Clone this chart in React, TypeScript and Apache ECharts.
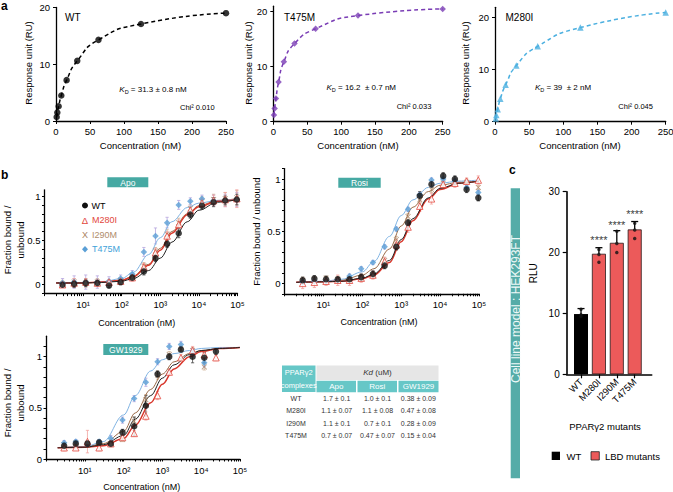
import React, { useEffect, useRef } from 'react';
import * as echarts from 'echarts';

const FONT = '"Liberation Sans", Arial, Helvetica, sans-serif';
const TEAL = '#46a9a3';
const TEAL_TABLE = '#66c7c7';
const RED = '#e2473d';
const TAN = '#a98260';
const BLUE = '#5a9fd6';
const PURPLE = '#7a3db5';
const SKY = '#4cb0e0';

// ---------- panel a (SPR) ----------
const A_CONC = [0.98, 1.95, 3.9, 7.8, 15.6, 31.25, 62.5, 125, 250];
const A_WT = [0.7, 1.5, 2.6, 4.5, 7.2, 10.6, 14.3, 17.1, 19.0];
const A_T475M = [1.2, 2.4, 4.2, 7.2, 10.9, 14.2, 16.9, 19.3, 20.5];
const A_M280I = [0.6, 1.3, 2.4, 4.4, 7.1, 10.8, 14.5, 18.1, 21.0];
const A_Y_TICKS = [0, 10, 20];

// ---------- panel b (binding curves) ----------
const B_CONC = [2.93, 5.86, 11.7, 23.4, 46.9, 93.8, 187.5, 375, 750, 1500, 3000, 6000, 12000, 24000, 48000, 96000];
const FIT_X = [2, 10, 30, 100, 200, 500, 1000, 2000, 5000, 10000, 30000, 100000];
const B_Y_LABELS = [0, 0.5, 1];
const B_Y_TICKS = [-0.1, 0, 0.1, 0.2, 0.3, 0.4, 0.5, 0.6, 0.7, 0.8, 0.9, 1.0, 1.1];

const APO_WT = [0.0, 0.01, 0.02, 0.02, -0.01, 0.03, 0.08, 0.15, 0.3, 0.46, 0.58, 0.79, 0.89, 0.93, 0.95, 0.96];
const APO_M280I = [0.0, 0.02, 0.03, 0.02, 0.03, 0.04, 0.08, 0.2, 0.36, 0.55, 0.68, 0.84, 0.92, 0.95, 0.96, 0.97];
const APO_I290M = [0.01, 0.03, 0.02, 0.03, 0.02, 0.05, 0.09, 0.21, 0.38, 0.57, 0.7, 0.86, 0.94, 0.96, 0.97, 0.98];
const APO_T475M = [0.02, 0.03, 0.03, 0.03, 0.04, 0.07, 0.12, 0.37, 0.55, 0.7, 0.9, 0.94, 0.97, 0.95, 0.95, 0.96];
const APO_WT_ERR = [0.03, 0.04, 0.04, 0.03, 0.02, 0.03, 0.03, 0.04, 0.04, 0.04, 0.05, 0.04, 0.04, 0.05, 0.05, 0.06];
const APO_M280I_ERR = [0.03, 0.05, 0.04, 0.04, 0.03, 0.03, 0.04, 0.04, 0.05, 0.05, 0.05, 0.04, 0.05, 0.06, 0.08, 0.1];
const APO_I290M_ERR = [0.04, 0.04, 0.05, 0.04, 0.03, 0.03, 0.03, 0.04, 0.04, 0.05, 0.05, 0.04, 0.05, 0.06, 0.07, 0.08];
const APO_T475M_ERR = [0.05, 0.07, 0.08, 0.07, 0.05, 0.04, 0.04, 0.05, 0.09, 0.06, 0.05, 0.04, 0.04, 0.06, 0.07, 0.08];
const APO_FIT_WT = [0.02, 0.02, 0.025, 0.04, 0.07, 0.16, 0.3, 0.48, 0.71, 0.84, 0.93, 0.96];
const APO_FIT_M280I = [0.02, 0.02, 0.03, 0.05, 0.09, 0.22, 0.39, 0.58, 0.79, 0.88, 0.94, 0.96];
const APO_FIT_I290M = [0.02, 0.02, 0.03, 0.05, 0.1, 0.23, 0.41, 0.6, 0.8, 0.89, 0.95, 0.97];
const APO_FIT_T475M = [0.02, 0.02, 0.03, 0.07, 0.14, 0.34, 0.53, 0.71, 0.87, 0.92, 0.95, 0.965];

const ROSI_WT = [0.03, 0.045, 0.04, 0.04, 0.04, 0.06, 0.09, 0.17, 0.35, 0.58, 0.84, 0.95, 1.03, 1.0, 0.9, 0.82];
const ROSI_M280I = [0.0, 0.01, 0.02, 0.03, 0.03, 0.05, 0.08, 0.21, 0.37, 0.54, 0.74, 0.81, 0.95, 0.96, 0.98, 0.99];
const ROSI_I290M = [0.03, 0.04, 0.05, 0.04, 0.04, 0.05, 0.08, 0.22, 0.42, 0.64, 0.8, 0.9, 0.96, 0.97, 0.97, 0.92];
const ROSI_T475M = [0.01, 0.02, 0.02, 0.03, 0.07, 0.14, 0.2, 0.35, 0.52, 0.71, 0.85, 0.99, 1.0, 0.98, 0.92, 0.87];
const ROSI_WT_ERR = [0.03, 0.03, 0.03, 0.02, 0.02, 0.03, 0.03, 0.03, 0.03, 0.03, 0.04, 0.03, 0.03, 0.03, 0.03, 0.03];
const ROSI_M280I_ERR = [0.05, 0.05, 0.04, 0.05, 0.05, 0.04, 0.04, 0.04, 0.05, 0.05, 0.05, 0.05, 0.04, 0.04, 0.03, 0.04];
const ROSI_I290M_ERR = [0.03, 0.03, 0.02, 0.03, 0.03, 0.03, 0.03, 0.03, 0.03, 0.03, 0.03, 0.03, 0.03, 0.03, 0.03, 0.02];
const ROSI_T475M_ERR = [0.02, 0.02, 0.02, 0.02, 0.02, 0.02, 0.02, 0.02, 0.02, 0.02, 0.02, 0.02, 0.02, 0.02, 0.02, 0.02];
const ROSI_FIT_WT = [0.01, 0.015, 0.02, 0.05, 0.09, 0.22, 0.42, 0.62, 0.82, 0.91, 0.96, 0.98];
const ROSI_FIT_M280I = [0.01, 0.015, 0.02, 0.045, 0.08, 0.2, 0.4, 0.6, 0.81, 0.9, 0.96, 0.98];
const ROSI_FIT_I290M = [0.01, 0.015, 0.03, 0.08, 0.14, 0.33, 0.55, 0.73, 0.88, 0.94, 0.97, 0.98];
const ROSI_FIT_T475M = [0.01, 0.02, 0.04, 0.11, 0.21, 0.45, 0.65, 0.8, 0.92, 0.96, 0.98, 0.99];

const GW_WT = [0.13, 0.15, 0.15, 0.16, 0.15, 0.26, 0.32, 0.52, 0.83, 1.0, 1.07, 1.0, 0.99, 1.05];
const GW_M280I = [0.11, 0.11, 0.17, 0.11, 0.15, 0.21, 0.25, 0.42, 0.62, 0.85, 0.99, 1.06, 1.02, 0.99];
const GW_I290M = [0.14, 0.16, 0.15, 0.16, 0.15, 0.19, 0.37, 0.58, 0.82, 1.02, 1.07, 1.06, 0.9];
const GW_T475M = [0.16, 0.17, 0.15, 0.17, 0.2, 0.38, 0.59, 0.75, 0.95, 1.1, 1.12, 1.04, 0.94];
const GW_WT_ERR = [0.03, 0.03, 0.03, 0.03, 0.02, 0.03, 0.09, 0.1, 0.03, 0.03, 0.03, 0.06, 0.05, 0.03];
const GW_M280I_ERR = [0.03, 0.02, 0.11, 0.03, 0.03, 0.03, 0.03, 0.04, 0.04, 0.03, 0.03, 0.04, 0.04, 0.03];
const GW_I290M_ERR = [0.02, 0.02, 0.02, 0.02, 0.03, 0.02, 0.04, 0.05, 0.04, 0.03, 0.03, 0.03, 0.03];
const GW_T475M_ERR = [0.02, 0.02, 0.02, 0.02, 0.03, 0.03, 0.03, 0.04, 0.03, 0.03, 0.03, 0.04, 0.04];
const GW_FIT_WT = [0.11, 0.115, 0.14, 0.23, 0.39, 0.62, 0.79, 0.92, 1.02, 1.06, 1.08, 1.09];
const GW_FIT_M280I = [0.11, 0.115, 0.13, 0.2, 0.33, 0.55, 0.73, 0.88, 1.0, 1.05, 1.08, 1.09];
const GW_FIT_I290M = [0.11, 0.12, 0.15, 0.27, 0.45, 0.68, 0.83, 0.95, 1.03, 1.06, 1.08, 1.09];
const GW_FIT_T475M = [0.11, 0.12, 0.17, 0.43, 0.62, 0.86, 0.97, 1.03, 1.06, 1.08, 1.09, 1.09];

const TABLE_ROWS = ['WT', 'M280I', 'I290M', 'T475M'];
const TABLE_APO = ['1.7 ± 0.1', '1.1 ± 0.07', '1.1 ± 0.1', '0.7 ± 0.07'];
const TABLE_ROSI = ['1.0 ± 0.1', '1.1 ± 0.08', '0.7 ± 0.1', '0.47 ± 0.07'];
const TABLE_GW = ['0.38 ± 0.09', '0.47 ± 0.08', '0.28 ± 0.09', '0.15 ± 0.04'];

// ---------- panel c (luciferase) ----------
const C_CATS = ['WT', 'M280I', 'I290M', 'T475M'];
const C_MEAN = [9.9, 19.8, 21.6, 23.8];
const C_ERR = [0.9, 1.0, 2.0, 1.3];
const C_DOTS_WT = [10.7, 9.8, 9.5];
const C_DOTS_M280I = [20.5, 19.7, 18.4];
const C_DOTS_I290M = [23.5, 21.5, 20.0];
const C_DOTS_T475M = [24.8, 23.7, 22.3];
const C_STAR_Y = [22.6, 25.0, 26.8];
const C_STAR_CAT = [1, 2, 3];

const SUP: Record<number, string> = { 0: '⁰', 1: '¹', 2: '²', 3: '³', 4: '⁴', 5: '⁵' };

function logTicks() {
  const t: number[] = [];
  for (let d = 0; d < 5; d++) for (let m = 1; m < 10; m++) t.push(m * Math.pow(10, d));
  t.push(100000);
  return t;
}

const txt = (x: number, y: number, text: string, o: any = {}) => ({
  type: 'text',
  x,
  y,
  rotation: o.rot || 0,
  silent: true,
  z: 100,
  style: {
    text,
    fill: o.color || '#000',
    fontSize: o.size || 9,
    fontFamily: FONT,
    fontWeight: o.bold ? 'bold' : 'normal',
    fontStyle: o.italic ? 'italic' : 'normal',
    textAlign: o.align || 'center',
    textVerticalAlign: 'middle',
    align: o.align || 'center',
    verticalAlign: 'middle',
    rich: o.rich,
  },
});
const box = (x: number, y: number, w: number, h: number, fill: string, stroke?: string) => ({
  type: 'rect',
  silent: true,
  z: 90,
  shape: { x, y, width: w, height: h },
  style: { fill, stroke: stroke || 'none', lineWidth: stroke ? 0.8 : 0 },
});

function errSeries(gi: number, xs: number[], ys: number[], es: number[], color: string, cap: number, upOnly = false, lw = 0.8) {
  return {
    type: 'custom',
    xAxisIndex: gi,
    yAxisIndex: gi,
    z: 1,
    silent: true,
    clip: false,
    encode: { x: 0, y: 1 },
    data: ys.map((v, i) => [xs[i], v, es[i]]),
    renderItem: (_p: any, api: any) => {
      const x = api.value(0);
      const y = api.value(1);
      const e = api.value(2);
      const top = api.coord([x, y + e]);
      const bot = api.coord(upOnly ? [x, y] : [x, y - e]);
      const st = { stroke: color, lineWidth: lw };
      const children: any[] = [
        { type: 'line', shape: { x1: top[0], y1: top[1], x2: bot[0], y2: bot[1] }, style: st },
        { type: 'line', shape: { x1: top[0] - cap, y1: top[1], x2: top[0] + cap, y2: top[1] }, style: st },
      ];
      if (!upOnly) children.push({ type: 'line', shape: { x1: bot[0] - cap, y1: bot[1], x2: bot[0] + cap, y2: bot[1] }, style: st });
      return { type: 'group', children };
    },
  };
}

const X_PATH = 'path://M0,1L1,0L5,4L9,0L10,1L6,5L10,9L9,10L5,6L1,10L0,9L4,5Z';

const SERIES_STYLE: Record<string, any> = {
  WT: { symbol: 'circle', size: 6.5, item: { color: '#111' }, line: '#222', lw: 1, err: '#444' },
  M280I: { symbol: 'triangle', size: 6.5, item: { color: '#fff', borderColor: RED, borderWidth: 1 }, line: '#d8372c', lw: 1.5, err: '#f2a3a0' },
  I290M: { symbol: X_PATH, size: 5.5, item: { color: TAN }, line: '#9b6a48', lw: 1, err: '#cfb195' },
  T475M: { symbol: 'diamond', size: 6.5, item: { color: BLUE }, line: '#7fb3e3', lw: 1, err: '#b6a6de' },
};

function bSeries(gi: number, key: string, vals: number[], errs: number[], fit: number[]) {
  const s = SERIES_STYLE[key];
  return [
    errSeries(gi, B_CONC, vals, errs, s.err, 1.6),
    {
      type: 'line',
      xAxisIndex: gi,
      yAxisIndex: gi,
      z: 2,
      silent: true,
      smooth: 0.35,
      smoothMonotone: 'x',
      showSymbol: false,
      data: FIT_X.map((x, i) => [x, fit[i]]),
      lineStyle: { color: s.line, width: s.lw },
    },
    {
      type: 'scatter',
      xAxisIndex: gi,
      yAxisIndex: gi,
      z: 3,
      silent: true,
      clip: false,
      symbol: s.symbol,
      symbolSize: s.size,
      itemStyle: s.item,
      data: vals.map((v, i) => [B_CONC[i], v]),
    },
  ];
}

function aSeries(gi: number, vals: number[], symbol: string, color: string, size: number) {
  const data = vals.map((v, i) => [A_CONC[i], v]);
  return [
    {
      type: 'line',
      xAxisIndex: gi,
      yAxisIndex: gi,
      z: 2,
      silent: true,
      smooth: 0.6,
      showSymbol: false,
      data,
      lineStyle: { color, width: 1.5, type: [4, 3] },
    },
    {
      type: 'scatter',
      xAxisIndex: gi,
      yAxisIndex: gi,
      z: 3,
      silent: true,
      clip: false,
      symbol,
      symbolSize: size,
      itemStyle: { color },
      data,
    },
  ];
}

const AXLINE = { show: true, onZero: false, lineStyle: { color: '#000', width: 1.3 } };
const LBL = { color: '#000', fontFamily: FONT, fontSize: 9.5 };

function aX(gi: number) {
  return {
    type: 'value', gridIndex: gi, min: 0, max: 250, interval: 50,
    axisLine: AXLINE, axisTick: { show: true, length: 3, lineStyle: { color: '#000' } },
    axisLabel: { ...LBL, margin: 5 }, splitLine: { show: false },
  };
}
function aY(gi: number, max: number) {
  return {
    type: 'value', gridIndex: gi, min: 0, max,
    axisLine: AXLINE, axisTick: { show: true, length: 3, customValues: A_Y_TICKS, lineStyle: { color: '#000' } },
    axisLabel: { ...LBL, margin: 6, customValues: A_Y_TICKS }, splitLine: { show: false },
  };
}
function bX(gi: number) {
  return {
    type: 'log', gridIndex: gi, min: 1, max: 100000, logBase: 10,
    axisLine: AXLINE,
    axisTick: { show: true, length: 2.5, customValues: logTicks(), lineStyle: { color: '#000' } },
    axisLabel: {
      ...LBL, margin: 6,
      formatter: (v: number) => (v < 5 ? '' : '10' + SUP[Math.round(Math.log10(v))]),
    },
    splitLine: { show: false },
  };
}
function bY(gi: number, min: number, max: number) {
  return {
    type: 'value', gridIndex: gi, min, max,
    axisLine: AXLINE,
    axisTick: { show: true, length: 2.5, customValues: B_Y_TICKS.filter((t) => t >= min - 1e-9 && t <= max + 1e-9), lineStyle: { color: '#000' } },
    axisLabel: { ...LBL, margin: 4, customValues: B_Y_LABELS, formatter: (v: number) => String(v) },
    splitLine: { show: false },
  };
}

function buildOption() {
  const grid = [
    { left: 56, top: 7.5, width: 170, height: 113.5 },
    { left: 273.3, top: 6.2, width: 169.4, height: 115.5 },
    { left: 495, top: 7.3, width: 170.7, height: 114.4 },
    { left: 44.5, top: 189.8, width: 193, height: 103.8 },
    { left: 284.5, top: 168.6, width: 194.5, height: 125.2 },
    { left: 46, top: 336.2, width: 194, height: 122.8 },
    { left: 566.7, top: 191.7, width: 85, height: 182.6 },
  ].map((g) => ({ ...g, containLabel: false, outerBoundsMode: 'none' }));

  const xAxis: any[] = [
    aX(0), aX(1), aX(2), bX(3), bX(4), bX(5),
    {
      type: 'value', gridIndex: 6, min: -0.8, max: 3.95,
      axisLine: { ...AXLINE, lineStyle: { color: '#000', width: 1.6 } },
      axisTick: { show: true, length: 4, customValues: [0, 1, 2, 3], lineStyle: { color: '#000', width: 1.2 } },
      axisLabel: { ...LBL, fontSize: 9.5, margin: 6, rotate: 45, customValues: [0, 1, 2, 3], formatter: (v: number) => C_CATS[Math.round(v)] || '' },
      splitLine: { show: false },
    },
  ];
  const yAxis: any[] = [
    aY(0, 20), aY(1, 21), aY(2, 22),
    bY(3, -0.1, 1.07), bY(4, -0.1, 1.1), bY(5, 0, 1.2),
    {
      type: 'value', gridIndex: 6, min: 0, max: 30, interval: 10,
      axisLine: { ...AXLINE, lineStyle: { color: '#000', width: 1.6 } },
      axisTick: { show: true, length: 4, lineStyle: { color: '#000', width: 1.2 } },
      axisLabel: { ...LBL, fontSize: 10, margin: 7 },
      splitLine: { show: false },
    },
  ];

  const series: any[] = [
    ...aSeries(0, A_WT, 'circle', '#000', 6.5),
    ...aSeries(1, A_T475M, 'diamond', PURPLE, 6.5),
    ...aSeries(2, A_M280I, 'triangle', SKY, 6.5),

    ...bSeries(3, 'I290M', APO_I290M, APO_I290M_ERR, APO_FIT_I290M),
    ...bSeries(3, 'T475M', APO_T475M, APO_T475M_ERR, APO_FIT_T475M),
    ...bSeries(3, 'M280I', APO_M280I, APO_M280I_ERR, APO_FIT_M280I),
    ...bSeries(3, 'WT', APO_WT, APO_WT_ERR, APO_FIT_WT),

    ...bSeries(4, 'I290M', ROSI_I290M, ROSI_I290M_ERR, ROSI_FIT_I290M),
    ...bSeries(4, 'T475M', ROSI_T475M, ROSI_T475M_ERR, ROSI_FIT_T475M),
    ...bSeries(4, 'M280I', ROSI_M280I, ROSI_M280I_ERR, ROSI_FIT_M280I),
    ...bSeries(4, 'WT', ROSI_WT, ROSI_WT_ERR, ROSI_FIT_WT),

    ...bSeries(5, 'I290M', GW_I290M, GW_I290M_ERR, GW_FIT_I290M),
    ...bSeries(5, 'T475M', GW_T475M, GW_T475M_ERR, GW_FIT_T475M),
    ...bSeries(5, 'M280I', GW_M280I, GW_M280I_ERR, GW_FIT_M280I),
    ...bSeries(5, 'WT', GW_WT, GW_WT_ERR, GW_FIT_WT),

    {
      type: 'bar', xAxisIndex: 6, yAxisIndex: 6, barWidth: 14, z: 2, silent: true,
      data: C_MEAN.map((v, i) => ({
        value: [i, v],
        itemStyle: i === 0 ? { color: '#000' } : { color: '#ec5a5a', borderColor: '#2a1a1a', borderWidth: 0.8 },
      })),
    },
    errSeries(6, [0, 1, 2, 3], C_MEAN, C_ERR, '#000', 3.5, true, 1.3),
    {
      type: 'scatter', xAxisIndex: 6, yAxisIndex: 6, z: 4, silent: true, symbolSize: 3.5,
      itemStyle: { color: '#111' },
      data: [
        ...C_DOTS_WT.map((v) => [0, v]),
        ...C_DOTS_M280I.map((v) => [1, v]),
        ...C_DOTS_I290M.map((v) => [2, v]),
        ...C_DOTS_T475M.map((v) => [3, v]),
      ],
    },
    {
      type: 'scatter', xAxisIndex: 6, yAxisIndex: 6, z: 4, silent: true, symbolSize: 0,
      data: C_STAR_CAT.map((c, i) => [c, C_STAR_Y[i]]),
      label: { show: true, position: 'inside', formatter: '****', fontSize: 11, color: '#000', fontFamily: FONT, offset: [0, 3] },
    },
  ];

  const kdRich = {
    i: { fontSize: 8, fontFamily: FONT, fontStyle: 'italic', fill: '#000', color: '#000' },
    s: { fontSize: 5.5, fontFamily: FONT, fill: '#000', color: '#000', padding: [5, 0, 0, 0] },
    n: { fontSize: 8, fontFamily: FONT, fill: '#000', color: '#000' },
  };

  const graphic: any[] = [
    // panel letters
    txt(1, 6, 'a', { bold: true, size: 12, align: 'left' }),
    txt(1, 175, 'b', { bold: true, size: 12, align: 'left' }),
    txt(509, 170, 'c', { bold: true, size: 12, align: 'left' }),

    // panel a texts
    txt(28.3, 63, 'Response unit (RU)', { rot: Math.PI / 2, size: 9.5 }),
    txt(248.3, 63, 'Response unit (RU)', { rot: Math.PI / 2, size: 9.5 }),
    txt(465, 63, 'Response unit (RU)', { rot: Math.PI / 2, size: 9.5 }),
    txt(140.5, 145, 'Concentration (nM)', { size: 9.5 }),
    txt(358, 145, 'Concentration (nM)', { size: 9.5 }),
    txt(580, 145, 'Concentration (nM)', { size: 9.5 }),
    txt(65, 17, 'WT', { size: 10, align: 'left' }),
    txt(284, 17, 'T475M', { size: 10, align: 'left' }),
    txt(505.5, 17, 'M280I', { size: 10, align: 'left' }),
    txt(119.3, 89, '{i|K}{s|D}{n| = 31.3 ± 0.8 nM}', { align: 'left', rich: kdRich }),
    txt(326.5, 87.5, '{i|K}{s|D}{n| = 16.2  ± 0.7 nM}', { align: 'left', rich: kdRich }),
    txt(535, 87.5, '{i|K}{s|D}{n| = 39  ± 2 nM}', { align: 'left', rich: kdRich }),
    txt(180, 107, 'Chi² 0.010', { size: 7.5, align: 'left' }),
    txt(396.7, 106.7, 'Chi² 0.033', { size: 7.5, align: 'left' }),
    txt(618.3, 106.7, 'Chi² 0.045', { size: 7.5, align: 'left' }),

    // panel b titles
    txt(7, 240, 'Fraction bound /', { rot: Math.PI / 2, size: 9.5 }),
    txt(20.5, 240, 'unbound', { rot: Math.PI / 2, size: 9.5 }),
    txt(256.7, 231.7, 'Fraction bound / unbound', { rot: Math.PI / 2, size: 9.5 }),
    txt(7, 403, 'Fraction bound /', { rot: Math.PI / 2, size: 9.5 }),
    txt(20.5, 403, 'unbound', { rot: Math.PI / 2, size: 9.5 }),
    txt(136.7, 323, 'Concentration (nM)', { size: 9 }),
    txt(379, 322, 'Concentration (nM)', { size: 9 }),
    txt(141.7, 487, 'Concentration (nM)', { size: 9 }),

    box(107.3, 177.3, 41, 10, TEAL),
    txt(127.8, 182.5, 'Apo', { color: '#fff', size: 8.5 }),
    box(338.3, 177.7, 42.4, 10, TEAL),
    txt(359.5, 182.9, 'Rosi', { color: '#fff', size: 8.5 }),
    box(103.3, 344, 45, 11, TEAL),
    txt(125.8, 349.7, 'GW1929', { color: '#fff', size: 8.5 }),

    // panel b legend
    { type: 'circle', silent: true, z: 100, shape: { cx: 85, cy: 205.5, r: 3 }, style: { fill: '#111' } },
    txt(91.5, 205.5, 'WT', { size: 9, align: 'left' }),
    txt(85, 220.2, 'Δ', { size: 9.5, color: RED }),
    txt(92, 220.2, 'M280I', { size: 9, align: 'left', color: RED }),
    txt(85, 234.8, 'X', { size: 9, color: TAN }),
    txt(92, 234.8, 'I290M', { size: 9, align: 'left', color: '#b08d6b' }),
    { type: 'polygon', silent: true, z: 100, shape: { points: [[85, 246], [88, 249.3], [85, 252.6], [82, 249.3]] }, style: { fill: BLUE } },
    txt(92, 249.3, 'T475M', { size: 9, align: 'left', color: '#3fa2d9' }),

    // table
    box(282, 365.5, 33.5, 26.5, TEAL_TABLE),
    txt(298.7, 372.5, 'PPARγ2', { color: '#fff', size: 7.5 }),
    txt(298.7, 385.5, 'complexes', { color: '#fff', size: 7.5 }),
    box(316.5, 365.5, 122, 14.5, '#e6e6e6'),
    txt(377.5, 372.7, '{i|Kd}{n| (uM)}', {
      rich: {
        i: { fontSize: 8, fontFamily: FONT, fontStyle: 'italic', fill: '#333', color: '#333' },
        n: { fontSize: 8, fontFamily: FONT, fill: '#333', color: '#333' },
      },
    }),
    box(316.5, 380.8, 39.5, 11.5, TEAL_TABLE),
    box(357.5, 380.8, 39.5, 11.5, TEAL_TABLE),
    box(398.5, 380.8, 40, 11.5, TEAL_TABLE),
    txt(336.3, 386.6, 'Apo', { color: '#fff', size: 8 }),
    txt(377.3, 386.6, 'Rosi', { color: '#fff', size: 8 }),
    txt(418.5, 386.6, 'GW1929', { color: '#fff', size: 8 }),
    ...TABLE_ROWS.map((r, i) => txt(296, 398.5 + i * 12.3, r, { size: 7, color: '#333' })),
    ...TABLE_APO.map((r, i) => txt(336.7, 398.5 + i * 12.3, r, { size: 7, color: '#333' })),
    ...TABLE_ROSI.map((r, i) => txt(377.5, 398.5 + i * 12.3, r, { size: 7, color: '#333' })),
    ...TABLE_GW.map((r, i) => txt(418.3, 398.5 + i * 12.3, r, { size: 7, color: '#333' })),

    // panel c
    box(510.7, 188.3, 9.3, 290, '#55aca8'),
    txt(515.5, 309, 'Cell line model : HEK293FT', { rot: Math.PI / 2, size: 12, color: '#eef8f7' }),
    txt(533.3, 273.3, 'RLU', { rot: Math.PI / 2, size: 10 }),
    txt(605, 426.7, 'PPARγ2 mutants', { size: 9.5 }),
    box(551.7, 451.7, 8.3, 8.3, '#000'),
    txt(566.5, 456, 'WT', { size: 9.5, align: 'left' }),
    box(591, 451.7, 8.3, 8.3, '#ec5a5a', '#222'),
    txt(605, 456, 'LBD mutants', { size: 9.5, align: 'left' }),
  ];

  return {
    animation: false,
    backgroundColor: '#fff',
    textStyle: { fontFamily: FONT },
    grid,
    xAxis,
    yAxis,
    series,
    graphic: { elements: graphic },
  };
}

export default function App() {
  const ref = useRef<HTMLDivElement>(null);
  useEffect(() => {
    if (!ref.current) return;
    const chart = echarts.init(ref.current, undefined, { renderer: 'svg', width: 673, height: 492 });
    chart.setOption(buildOption() as any);
    return () => chart.dispose();
  }, []);
  return <div ref={ref} style={{ position: 'fixed', left: 0, top: 0, width: 673, height: 492, background: '#fff' }} />;
}
